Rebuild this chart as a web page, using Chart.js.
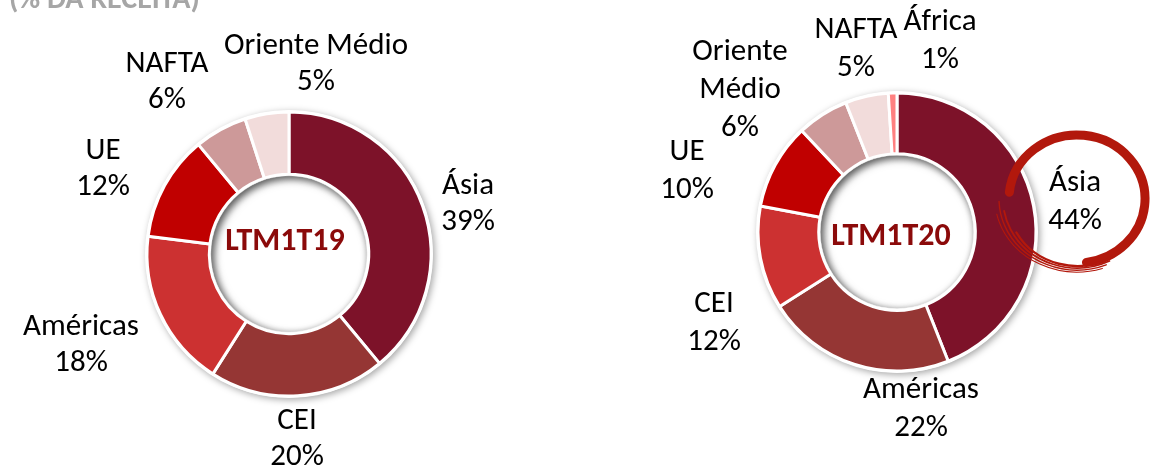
<!DOCTYPE html>
<html>
<head>
<meta charset="utf-8">
<script src="https://cdn.jsdelivr.net/npm/chart.js@4/dist/chart.umd.min.js"></script>
<style>
  html, body { margin: 0; padding: 0; background: #ffffff; }
  #wrap { position: relative; width: 1150px; height: 468px; overflow: hidden; }
  canvas { position: absolute; left: 0; top: 0; }
</style>
</head>
<body>
<div id="wrap">
  <canvas id="c19" width="1150" height="468"></canvas>
  <canvas id="c20" width="1150" height="468"></canvas>
</div>
<script>
// ---- data ----
const title = '(% DA RECEITA)';
const center19 = 'LTM1T19';
const cats19 = ['Ásia', 'CEI', 'Américas', 'UE', 'NAFTA', 'Oriente Médio'];
const vals19 = [39, 20, 18, 12, 6, 5];
const center20 = 'LTM1T20';
const cats20 = ['Ásia', 'Américas', 'CEI', 'UE', 'Oriente Médio', 'NAFTA', 'África'];
const vals20 = [44, 22, 12, 10, 6, 5, 1];

// ---- styles / layout ----
const colors19 = ['#7D1229', '#953634', '#CC3131', '#C00000', '#CD9999', '#F2DCDB'];
const colors20 = ['#7D1229', '#953634', '#CC3131', '#C00000', '#CD9999', '#F2DCDB', '#FF8080'];
const FONT = 'Carlito, Lato, "Open Sans", sans-serif';
// label block centres, relative to the donut centre
const labelOff19 = [[179, -50], [8, 185], [-208, 91], [-186, -85], [-122, -172], [27, -190]];
const labelOff20 = [[178, -30], [24, 177], [-183, 91], [-210, -61], [-157, -142], [-41, -183], [43, -191]];

function ringPlugin(cfg) {
  return {
    id: 'ring' + cfg.name,
    beforeDatasetsDraw(chart) {
      const a = chart.getDatasetMeta(0).data[0];
      const ctx = chart.ctx;
      ctx.save();
      ctx.shadowColor = 'rgba(0,0,0,0.35)';
      ctx.shadowBlur = 7;
      ctx.shadowOffsetX = 2;
      ctx.shadowOffsetY = 2;
      ctx.beginPath();
      ctx.arc(a.x, a.y, a.outerRadius + 2, 0, Math.PI * 2);
      ctx.arc(a.x, a.y, a.innerRadius - 2, 0, Math.PI * 2, true);
      ctx.fillStyle = '#ffffff';
      ctx.fill();
      ctx.restore();
    },
    afterDatasetsDraw(chart) {
      const meta = chart.getDatasetMeta(0);
      const a = meta.data[0];
      const ctx = chart.ctx;
      // inset shadow in the hole
      ctx.save();
      ctx.beginPath();
      ctx.arc(a.x, a.y, a.innerRadius - 1.5, 0, Math.PI * 2);
      ctx.clip();
      ctx.shadowColor = 'rgba(0,0,0,0.5)';
      ctx.shadowBlur = 9;
      ctx.shadowOffsetX = 3;
      ctx.shadowOffsetY = 3;
      ctx.beginPath();
      ctx.rect(a.x - 400, a.y - 400, 800, 800);
      ctx.arc(a.x, a.y, a.innerRadius - 1.5, 0, Math.PI * 2, true);
      ctx.fillStyle = '#ffffff';
      ctx.fill('evenodd');
      ctx.restore();

      // centre text
      ctx.save();
      ctx.font = 'bold 32px ' + FONT;
      ctx.fillStyle = '#8B0A0A';
      ctx.textAlign = 'center';
      ctx.textBaseline = 'middle';
      ctx.fillText(cfg.center, a.x + cfg.centerOff[0], a.y + cfg.centerOff[1]);
      ctx.restore();

      // category labels
      ctx.save();
      ctx.font = '31px ' + FONT;
      ctx.fillStyle = '#000000';
      ctx.textAlign = 'center';
      ctx.textBaseline = 'middle';
      const labels = chart.data.labels;
      const data = chart.data.datasets[0].data;
      labels.forEach((name, i) => {
        let lines = cfg.wrap && name.indexOf(' ') > 0 ? name.split(' ') : [name];
        lines = lines.concat([data[i] + '%']);
        const lh = cfg.lineH;
        const off = cfg.offs[i];
        const cx = a.x + off[0];
        const cy = a.y + off[1];
        const y0 = cy - (lines.length - 1) * lh / 2;
        lines.forEach((t, k) => ctx.fillText(t, cx, y0 + k * lh));
      });
      ctx.restore();

      if (cfg.title) {
        ctx.save();
        ctx.font = 'bold 30px ' + FONT;
        ctx.fillStyle = '#A6A6A6';
        ctx.textAlign = 'left';
        ctx.textBaseline = 'alphabetic';
        ctx.fillText(cfg.title, 9, 8);
        ctx.restore();
      }

      if (cfg.brush) {
        const ex = a.x + 180, ey = a.y - 33;
        ctx.save();
        ctx.strokeStyle = '#B2180C';
        ctx.lineCap = 'round';
        ctx.lineWidth = 9;
        ctx.beginPath();
        ctx.ellipse(ex, ey, 68, 64, 0, Math.PI * 186 / 180, Math.PI * 442 / 180);
        ctx.stroke();
        const streaks = [[70, 67, 2.4, 60, 150], [74, 69, 1.8, 64, 170], [78, 71, 1.4, 68, 178], [82, 73, 1.1, 72, 168]];
        streaks.forEach(s => {
          ctx.lineWidth = s[2];
          ctx.beginPath();
          ctx.ellipse(ex, ey, s[0], s[1], 0, Math.PI * s[3] / 180, Math.PI * s[4] / 180);
          ctx.stroke();
        });
        ctx.restore();
      }
    }
  };
}

function makeChart(id, cats, vals, colors, padding, radius, cutout, cfg) {
  return new Chart(document.getElementById(id), {
    type: 'doughnut',
    data: {
      labels: cats,
      datasets: [{
        data: vals,
        backgroundColor: colors,
        borderColor: '#ffffff',
        borderWidth: 3,
        hoverOffset: 0
      }]
    },
    options: {
      responsive: false,
      animation: false,
      radius: radius,
      cutout: cutout,
      layout: { padding: padding },
      plugins: { legend: { display: false }, tooltip: { enabled: false } },
      events: []
    },
    plugins: [ringPlugin(cfg)]
  });
}

makeChart('c19', cats19, vals19, colors19,
  { left: 145, right: 717, top: 110, bottom: 70 }, 142, 80,
  { name: '19', center: center19, centerOff: [-4, -12], offs: labelOff19, lineH: 36, wrap: false, title: title });

makeChart('c20', cats20, vals20, colors20,
  { left: 757, right: 113, top: 92, bottom: 96 }, 139, 78,
  { name: '20', center: center20, centerOff: [-6, 5], offs: labelOff20, lineH: 38, wrap: true, brush: true });
</script>
</body>
</html>
